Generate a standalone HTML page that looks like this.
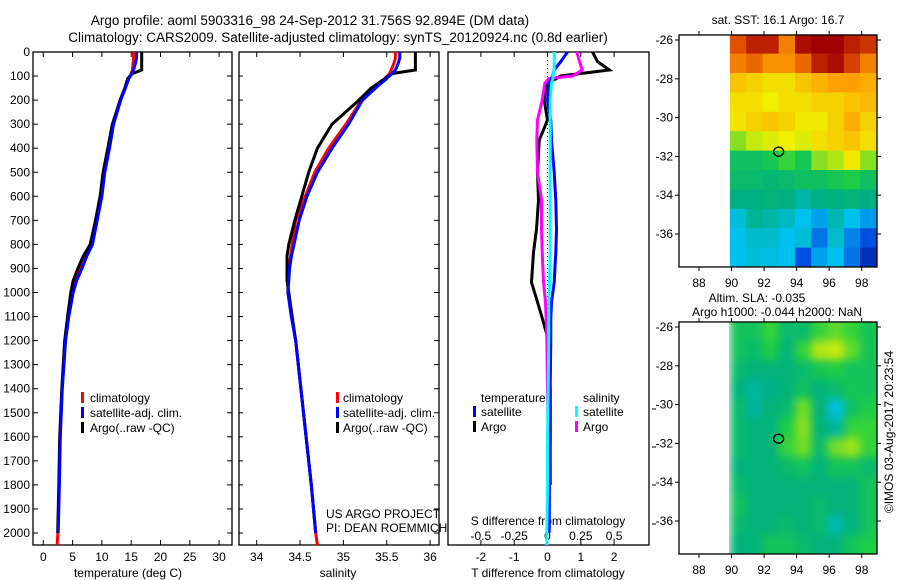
<!DOCTYPE html>
<html><head><meta charset="utf-8">
<style>
html,body{margin:0;padding:0;background:#fff;}
svg{display:block;font-family:"Liberation Sans",sans-serif;}
</style></head>
<body>
<svg id="chart" width="900" height="580" viewBox="0 0 900 580" xmlns="http://www.w3.org/2000/svg">
<defs>
<clipPath id="clipSST"><rect x="679" y="35" width="198" height="232"/></clipPath>
<clipPath id="clipSLA"><rect x="729" y="322" width="148" height="232"/></clipPath>
<filter id="blur" x="-5%" y="-5%" width="110%" height="110%" color-interpolation-filters="sRGB"><feGaussianBlur stdDeviation="4.5"/></filter>
</defs>
<text x="310" y="25" font-size="13.5" text-anchor="middle">Argo profile: aoml 5903316_98 24-Sep-2012 31.756S 92.894E (DM data)</text>
<text x="338" y="42" font-size="13.5" text-anchor="middle">Climatology: CARS2009. Satellite-adjusted climatology: synTS_20120924.nc (0.8d earlier)</text>
<g id="g"></g>
</svg>
<script>
// ---- profile data ----
const depths = [0,25,50,75,90,110,150,200,300,400,500,600,700,800,850,900,950,1000,1100,1200,1400,1600,1800,2000,2050];
const tempClim = [15.4,15.4,15.3,15.2,15.0,14.5,14.0,13.2,11.9,11.2,10.4,9.9,9.1,8.3,7.2,6.4,5.5,4.9,4.25,3.7,3.2,2.85,2.7,2.5,2.35];
const tempSat = [15.9,15.9,15.7,15.4,15.1,14.6,14.0,13.2,12.0,11.3,10.5,10.0,9.2,8.4,7.4,6.6,5.7,5.1,4.35,3.8,3.25,2.9,2.75,2.55,null];
const tempArgo = [16.8,16.8,16.8,16.8,15.2,14.4,13.9,13.1,11.8,11.0,10.2,9.7,8.9,8.0,6.8,5.9,5.1,4.7,4.15,3.65,3.15,2.8,2.65,2.45,null];
const salClim = [35.60,35.60,35.58,35.55,35.53,35.48,35.35,35.21,35.03,34.83,34.67,34.56,34.45,34.41,34.39,34.37,34.36,34.36,34.40,34.45,34.51,34.57,34.63,34.68,34.70];
const salSat = [35.65,35.65,35.63,35.60,35.56,35.50,35.37,35.22,35.06,34.87,34.70,34.58,34.49,34.43,34.40,34.38,34.37,34.36,34.40,34.45,34.51,34.57,34.63,34.68,null];
const salArgo = [35.83,35.83,35.83,35.83,35.56,35.48,35.32,35.18,34.87,34.70,34.60,34.52,34.44,34.37,34.35,34.35,34.35,34.37,34.41,34.45,34.51,34.57,34.63,34.68,null];
// ---- difference data ----
const diffDepths = [0,40,75,100,110,130,200,283,367,500,617,737,833,958,1040,1110,1185,1400,1600,1800,2000,2050];
const tDiffSat = [0.6,0.4,0.2,0.15,0.12,0.05,0,0.1,0.12,0.2,0.25,0.27,0.25,0.2,0.12,0.1,0.1,0.08,0.08,0.06,0.05,null];
const tDiffArgo = [1.35,1.5,1.86,0.4,0.27,-0.03,-0.1,0,-0.25,-0.3,-0.27,-0.33,-0.42,-0.48,-0.3,-0.15,0.0,0.08,0.08,0.08,null,null];
const sDiffSat = [0.05,0.05,0.05,0.04,0.04,0.03,0.02,0.02,0.02,0.02,0.02,0.02,0.02,0.015,0.01,0.01,0.01,0.005,0,0,-0.005,-0.005];
const sDiffArgo = [0.22,0.24,0.26,0.19,0.01,-0.02,-0.04,-0.075,-0.08,-0.075,-0.045,-0.045,-0.04,-0.03,-0.015,-0.01,-0.005,0,0.005,0.005,0.01,null];
// ---- tick labels ----
const depthTicks = [0,100,200,300,400,500,600,700,800,900,1000,1100,1200,1300,1400,1500,1600,1700,1800,1900,2000];
const tempTicks = [0,5,10,15,20,25,30];
const salTicks = [34,34.5,35,35.5,36];
const tDiffTicks = [-2,-1,0,1,2];
const sDiffTicks = [-0.5,-0.25,0,0.25,0.5];
const sDiffTickLabels = ["-0.5","-0.25","0","0.25","0.5"];
const latTicks = [-26,-28,-30,-32,-34,-36];
const lonTicks = [88,90,92,94,96,98];
// ---- map grids (rows: lat bands from -25.7 southward, cols: lon from 89.9 eastward, 1 deg) ----
const sstGrid = [
[0.88,0.95,0.95,0.82,0.98,1,1,0.95,0.92],
[0.82,0.85,0.8,0.8,0.85,0.95,0.98,0.9,0.82],
[0.72,0.7,0.68,0.68,0.72,0.75,0.78,0.78,0.76],
[0.68,0.68,0.65,0.68,0.68,0.7,0.7,0.72,0.74],
[0.67,0.7,0.72,0.7,0.66,0.66,0.7,0.76,0.7],
[0.6,0.63,0.64,0.65,0.64,0.68,0.7,0.72,0.68],
[0.5,0.5,0.52,0.56,0.52,0.6,0.62,0.66,0.6],
[0.48,0.48,0.47,0.48,0.5,0.5,0.52,0.54,0.5],
[0.45,0.45,0.46,0.45,0.4,0.44,0.45,0.46,0.45],
[0.33,0.42,0.4,0.36,0.3,0.26,0.38,0.3,0.25],
[0.3,0.35,0.35,0.3,0.33,0.2,0.35,0.22,0.15],
[0.3,0.33,0.32,0.3,0.15,0.26,0.3,0.2,0.05]];
const slaGrid = [
[0.55,0.55,0.6,0.52,0.52,0.6,0.62,0.6,0.55],
[0.55,0.52,0.58,0.5,0.6,0.66,0.67,0.62,0.55],
[0.52,0.5,0.5,0.5,0.52,0.56,0.58,0.55,0.55],
[0.5,0.45,0.48,0.5,0.54,0.5,0.52,0.56,0.55],
[0.52,0.45,0.5,0.52,0.63,0.5,0.36,0.54,0.58],
[0.52,0.5,0.5,0.58,0.64,0.5,0.45,0.6,0.6],
[0.52,0.5,0.5,0.6,0.63,0.52,0.63,0.65,0.6],
[0.5,0.5,0.5,0.52,0.55,0.5,0.55,0.55,0.52],
[0.52,0.5,0.5,0.5,0.5,0.5,0.5,0.5,0.55],
[0.55,0.5,0.5,0.5,0.5,0.52,0.5,0.5,0.55],
[0.52,0.5,0.5,0.52,0.5,0.52,0.42,0.5,0.55],
[0.5,0.5,0.55,0.55,0.52,0.5,0.5,0.55,0.58]];
const argoLon = 92.894, argoLat = -31.756;

const NS="http://www.w3.org/2000/svg";
const G=document.getElementById('g');
function mk(tag,attrs,parent){const e=document.createElementNS(NS,tag);for(const k in attrs)e.setAttribute(k,attrs[k]);(parent||G).appendChild(e);return e;}
function txt(x,y,s,anchor,size,name,parent){const e=mk('text',{x:x,y:y,'font-size':size||12,'text-anchor':anchor||'start'},parent);e.textContent=s;


return e;}

// axis functions
const TOP=52, BOT=545;
const yD = d => TOP + d*0.2405;
const xT = t => 43.3 + t*5.86;
const xS = s => 256.7 + (s-34)*86.7;
const xTd = t => 547.5 + t*33.3;
const xSd = s => 547.5 + s*133.3;

function frame(x0,x1,name){
  const r=mk('rect',{x:x0,y:TOP,width:x1-x0,height:BOT-TOP,fill:'none',stroke:'#000','stroke-width':1.3});
  
  
}
function profile(xs,ds,fx,color,name){
  let pts=[];
  for(let i=0;i<ds.length;i++){ if(xs[i]===null||xs[i]===undefined) continue; pts.push(fx(xs[i]).toFixed(1)+','+yD(ds[i]).toFixed(1)); }
  const p=mk('polyline',{points:pts.join(' '),fill:'none',stroke:color,'stroke-width':3,'stroke-linejoin':'miter'});
  
  
}
function legBar(x,y,color,name){
  const r=mk('rect',{x:x,y:y-10,width:3,height:11,fill:color});
  
  
}

// ---------- Panel 1: temperature ----------
frame(33,232,'temperature-panel-frame');
depthTicks.forEach(d=>{
  const y=yD(d);
  mk('line',{x1:33,y1:y,x2:38,y2:y,stroke:'#000'});
  mk('line',{x1:227,y1:y,x2:232,y2:y,stroke:'#000'});
  mk('line',{x1:239,y1:y,x2:243,y2:y,stroke:'#000'});
  mk('line',{x1:434,y1:y,x2:439,y2:y,stroke:'#000'});
  txt(30,y+4,String(d),'end',12,'depth-tick-label');
});
tempTicks.forEach(t=>{
  const x=xT(t);
  mk('line',{x1:x,y1:TOP,x2:x,y2:TOP+5,stroke:'#000'});
  mk('line',{x1:x,y1:BOT,x2:x,y2:BOT-5,stroke:'#000'});
  txt(x,561,String(t),'middle',12,'temperature-tick-label');
});
txt(128,577,'temperature (deg C)','middle',12,'temperature-axis-title');
profile(tempClim,depths,xT,'#f00','temperature-climatology-line');
profile(tempArgo,depths,xT,'#000','temperature-argo-line');
profile(tempSat,depths,xT,'#00f','temperature-satellite-line');
legBar(81,402,'#f00','legend-climatology-marker');
txt(90,402,'climatology','start',12,'legend-climatology');
legBar(81,417,'#00f','legend-satellite-marker');
txt(90,417,'satellite-adj. clim.','start',12,'legend-satellite-adj');
legBar(81,432,'#000','legend-argo-marker');
txt(90,432,'Argo(..raw -QC)','start',12,'legend-argo');

// ---------- Panel 2: salinity ----------
frame(239,439,'salinity-panel-frame');
salTicks.forEach(s=>{
  const x=xS(s);
  mk('line',{x1:x,y1:TOP,x2:x,y2:TOP+5,stroke:'#000'});
  mk('line',{x1:x,y1:BOT,x2:x,y2:BOT-5,stroke:'#000'});
  txt(x,561,String(s),'middle',12,'salinity-tick-label');
});
txt(338,577,'salinity','middle',12,'salinity-axis-title');
profile(salClim,depths,xS,'#f00','salinity-climatology-line');
profile(salArgo,depths,xS,'#000','salinity-argo-line');
profile(salSat,depths,xS,'#00f','salinity-satellite-line');
legBar(336,402,'#f00','legend2-climatology-marker');
txt(343,402,'climatology','start',12,'legend2-climatology');
legBar(336,417,'#00f','legend2-satellite-marker');
txt(343,417,'satellite-adj. clim.','start',12,'legend2-satellite-adj');
legBar(336,432,'#000','legend2-argo-marker');
txt(343,432,'Argo(..raw -QC)','start',12,'legend2-argo');
txt(326,518,'US ARGO PROJECT','start',12,'project-label');
txt(326,532,'PI: DEAN ROEMMICH','start',12,'pi-label');

// ---------- Panel 3: differences ----------
frame(448,649,'difference-panel-frame');
tDiffTicks.forEach(t=>{
  const x=xTd(t);
  mk('line',{x1:x,y1:TOP,x2:x,y2:TOP+5,stroke:'#000'});
  mk('line',{x1:x,y1:BOT,x2:x,y2:BOT-5,stroke:'#000'});
  txt(x,561,String(t),'middle',12,'t-diff-tick-label');
});
sDiffTicks.forEach((s,i)=>{ txt(xSd(s),540,sDiffTickLabels[i],'middle',12,'s-diff-tick-label'); });
[409,447,485,524].forEach(y=>mk('line',{x1:652,y1:y,x2:656,y2:y,stroke:'#000'}));
txt(548,525,'S difference from climatology','middle',12,'s-diff-axis-title');
txt(548,577,'T difference from climatology','middle',12,'t-diff-axis-title');
const zl=mk('line',{x1:xTd(0),y1:TOP,x2:xTd(0),y2:BOT,stroke:'#000','stroke-dasharray':'1,3'});


profile(tDiffArgo,diffDepths,xTd,'#000','t-diff-argo-line');
profile(sDiffArgo,diffDepths,xSd,'#f0f','s-diff-argo-line');
profile(tDiffSat,diffDepths,xTd,'#00f','t-diff-satellite-line');
profile(sDiffSat,diffDepths,xSd,'#0ff','s-diff-satellite-line');
txt(481,402,'temperature','start',12,'legend3-temperature-header');
legBar(473,416,'#00f','legend3-t-satellite-marker');
txt(481,416,'satellite','start',12,'legend3-t-satellite');
legBar(473,431,'#000','legend3-t-argo-marker');
txt(481,431,'Argo','start',12,'legend3-t-argo');
txt(583,402,'salinity','start',12,'legend3-salinity-header');
legBar(575,416,'#0ff','legend3-s-satellite-marker');
txt(583,416,'satellite','start',12,'legend3-s-satellite');
legBar(575,431,'#f0f','legend3-s-argo-marker');
txt(583,431,'Argo','start',12,'legend3-s-argo');

// ---------- Maps ----------
const stops=[[0,[0,32,160]],[0.15,[0,80,224]],[0.3,[0,192,240]],[0.45,[0,176,128]],[0.55,[32,208,64]],[0.65,[240,240,0]],[0.78,[255,160,0]],[0.88,[224,80,0]],[1,[160,0,0]]];
function cmap(v){
  v=Math.max(0,Math.min(1,v));
  for(let i=1;i<stops.length;i++){ if(v<=stops[i][0]){const a=stops[i-1],b=stops[i];const f=(v-a[0])/(b[0]-a[0]);
    const c=a[1].map((q,k)=>Math.round(q+(b[1][k]-q)*f));return 'rgb('+c.join(',')+')';}}
  return 'rgb(160,0,0)';
}
const xLon = lon => 699 + (lon-88)*16.27;
function mapPanel(grid,y0,topLat,name,blur,clipId,shift){
  const yLat = lat => y0 + (topLat - lat)*19.4;
  const yTop = yLat(-25.74), yBot = yLat(-37.7);
  const grp=mk('g',{'clip-path':'url(#'+clipId+')'});
  
  
  const inner = blur ? mk('g',{filter:'url(#blur)'},grp) : grp;
  grid.forEach((row,r)=>row.forEach((v,c)=>{
    const lon0=89.9+c, lat0=-25.7-r;
    const ext = blur ? 2 : 0;
    const x0=xLon(lon0), x1=xLon(lon0+1)+(c===row.length-1?ext*8:0);
    const ya=yLat(lat0)-(r===0?ext*8:0), yb=yLat(lat0-1)+(r===grid.length-1?ext*8:0);
    const cell=mk('rect',{x:x0.toFixed(1),y:ya.toFixed(1),width:(x1-x0+0.6).toFixed(1),height:(yb-ya+0.6).toFixed(1),fill:cmap(v-shift)},inner);
    
    
  }));
  const fr=mk('rect',{x:679,y:yTop,width:198,height:yBot-yTop,fill:'none',stroke:'#000','stroke-width':1.3});
  
  
  latTicks.forEach(l=>{const y=yLat(l);
    mk('line',{x1:675,y1:y,x2:679,y2:y,stroke:'#000'});
    mk('line',{x1:877,y1:y,x2:881,y2:y,stroke:'#000'});
    txt(673,y+4,String(l),'end',12,name+'-lat-label');});
  lonTicks.forEach(l=>{const x=xLon(l);
    mk('line',{x1:x,y1:yBot,x2:x,y2:yBot+4,stroke:'#000'});
    mk('line',{x1:x,y1:yTop,x2:x,y2:yTop-4,stroke:'#000'});
    txt(x,yBot+20,String(l),'middle',12,name+'-lon-label');});
  const m=mk('ellipse',{cx:xLon(argoLon),cy:yLat(argoLat),rx:5,ry:4.5,fill:'none',stroke:'#000','stroke-width':1.3});
  
  
}
mapPanel(sstGrid,40,-26,'sst-map',false,'clipSST',0);
mapPanel(slaGrid,327,-26,'sla-map',true,'clipSLA',0.04);
txt(778,24,'sat. SST: 16.1 Argo: 16.7','middle',12,'sst-map-title');
txt(757,302,'Altim. SLA: -0.035','middle',12,'sla-map-title');
txt(777,316,'Argo h1000: -0.044 h2000: NaN','middle',12,'sla-map-subtitle');
const ts=txt(0,0,'©IMOS 03-Aug-2017 20:23:54','middle',12,'timestamp');
ts.setAttribute('transform','translate(893,432) rotate(-90)');
</script>
</body></html>
